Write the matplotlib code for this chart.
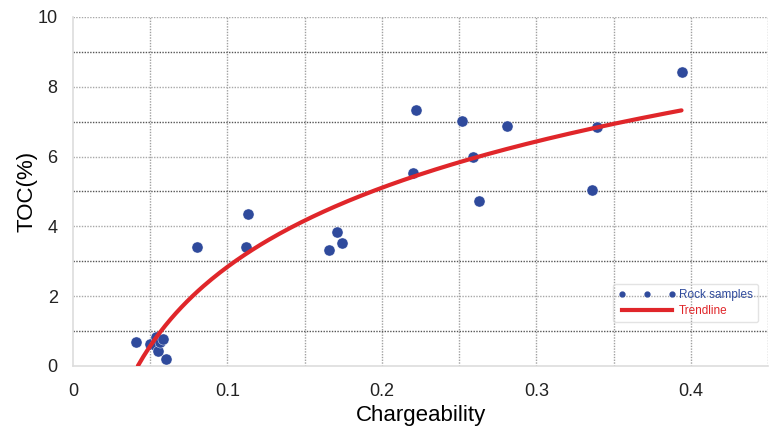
import numpy as np
import matplotlib.pyplot as plt

plt.rcParams['font.family'] = ['Liberation Sans', 'DejaVu Sans']

# rock samples
chargeability = [0.041, 0.050, 0.053, 0.054, 0.055, 0.056, 0.058, 0.060,
                 0.080, 0.112, 0.113, 0.166, 0.171, 0.174,
                 0.220, 0.222, 0.252, 0.259, 0.263, 0.281,
                 0.336, 0.339, 0.394]
toc = [0.70, 0.63, 0.60, 0.84, 0.44, 0.70, 0.77, 0.19,
       3.41, 3.41, 4.36, 3.32, 3.84, 3.52,
       5.53, 7.33, 7.02, 5.99, 4.73, 6.88,
       5.04, 6.85, 8.42]

# logarithmic trendline y = a*ln(x) + b
trend_a = 3.27
trend_b = 10.37
trend_range = (0.042, 0.394)

blue = '#2f4a9c'
red = '#e0262a'

fig = plt.figure(figsize=(7.71, 4.29), dpi=100)
ax = fig.add_axes([0.0947, 0.1469, 0.9014, 0.8135])

xt = np.linspace(trend_range[0], trend_range[1], 200)
ax.plot(chargeability, toc, 'o', color=blue, ms=8, mec='white', mew=0.3,
        zorder=3, label='Rock samples')
ax.plot(xt, trend_a * np.log(xt) + trend_b, color=red, lw=3,
        zorder=4, label='Trendline', solid_capstyle='round')

ax.set_xlim(0, 0.45)
ax.set_ylim(0, 10)
ax.set_xticks([0, 0.1, 0.2, 0.3, 0.4])
ax.set_xticklabels(['0', '0.1', '0.2', '0.3', '0.4'])
ax.set_yticks([0, 2, 4, 6, 8, 10])
ax.tick_params(length=0, labelsize=13, colors='#222222')
ax.tick_params(axis='x', pad=12)
ax.tick_params(axis='y', pad=11)

# grid: vertical every 0.05, horizontal every 1 (odd lines darker)
for gx in np.arange(0.05, 0.46, 0.05):
    ax.axvline(gx, color='#a0a0a0', lw=1, ls=(0, (1, 1)), zorder=1)
for gy in range(1, 11):
    c = '#555555' if gy % 2 else '#a8a8a8'
    ax.axhline(gy, color=c, lw=1, ls=(0, (1, 1)), zorder=1)

for s in ['top', 'right']:
    ax.spines[s].set_visible(False)
for s in ['left', 'bottom']:
    ax.spines[s].set_color('#dddddd')
    ax.spines[s].set_linewidth(1.2)

ax.set_xlabel('Chargeability', fontsize=16, labelpad=4)
ax.set_ylabel('TOC(%)', fontsize=16, labelpad=0)

h1, = ax.plot([], [], ls='none', color=blue, marker='o', ms=3.5)
h2, = ax.plot([], [], color=red, lw=3)
leg = ax.legend([h1, h2], ['Rock samples', 'Trendline'], loc='lower right',
                bbox_to_anchor=(0.9856, 0.126), borderaxespad=0,
                fontsize=8.5, numpoints=3,
                handlelength=4.8, handletextpad=0.3, borderpad=0.45,
                labelspacing=0.3, frameon=True, fancybox=True)
leg.get_frame().set_edgecolor('#dddddd')
leg.get_frame().set_facecolor('none')
leg.get_frame().set_linewidth(1)
for t, c in zip(leg.get_texts(), [blue, red]):
    t.set_color(c)

fig.savefig('out.png', dpi=100)
